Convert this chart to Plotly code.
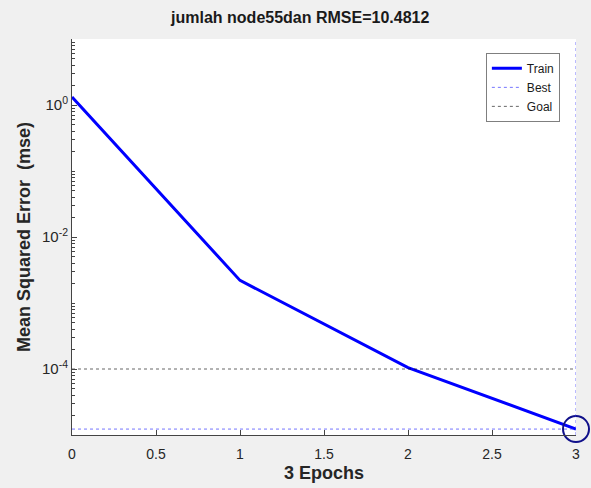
import plotly.graph_objects as go

# Data
epochs = [0, 1, 2, 3]
train_mse = [1.32, 2.2e-3, 1.05e-4, 1.23e-5]
best_epoch = 3
best_mse = 1.23e-5
goal_mse = 1e-4
y_lim = [1e-5, 1e1]
x_lim = [0, 3]
x_ticks = [0, 0.5, 1, 1.5, 2, 2.5, 3]
x_tick_text = ["0", "0.5", "1", "1.5", "2", "2.5", "3"]
y_ticks = [1e0, 1e-2, 1e-4]
y_tick_text = ["10<sup>0</sup>", "10<sup>-2</sup>", "10<sup>-4</sup>"]
title_text = "jumlah node55dan RMSE=10.4812"

minor_vals = [k * 10 ** d for d in range(-5, 1) for k in range(1, 10)] + [10]

fig = go.Figure()
fig.add_trace(go.Scatter(x=epochs, y=train_mse, mode="lines", name="Train",
                         line=dict(color="#0000ff", width=3)))
fig.add_trace(go.Scatter(x=x_lim, y=[best_mse, best_mse], mode="lines", name="Best",
                         line=dict(color="rgba(60,60,255,0.7)", width=1, dash="dot")))
fig.add_trace(go.Scatter(x=x_lim, y=[goal_mse, goal_mse], mode="lines", name="Goal",
                         line=dict(color="rgba(0,0,0,0.6)", width=1, dash="dot")))
fig.add_trace(go.Scatter(x=[best_epoch], y=[best_mse], mode="markers", showlegend=False,
                         cliponaxis=False,
                         marker=dict(symbol="circle-open", size=26,
                                     line=dict(color="#10108a", width=2), color="#10108a")))
fig.add_shape(type="line", xref="x", yref="paper", x0=best_epoch, x1=best_epoch, y0=0, y1=1,
              line=dict(color="rgba(60,60,255,0.7)", width=1, dash="dot"), layer="above")

fig.update_layout(
    width=591, height=488,
    margin=dict(l=72, r=15, t=39, b=53, autoexpand=False),
    paper_bgcolor="#f0f0f0", plot_bgcolor="#ffffff",
    font=dict(family="Liberation Sans, Arial, sans-serif", size=14, color="#262626"),
    title=dict(text="<b>" + title_text + "</b>", x=0.508, xanchor="center",
               y=0.965, yanchor="middle", yref="container",
               font=dict(size=16, color="#1a1a1a")),
    showlegend=True,
    legend=dict(x=0.968, y=0.965, xanchor="right", yanchor="top",
                bgcolor="#ffffff", bordercolor="#7f7f7f", borderwidth=1,
                font=dict(size=12, color="#1a1a1a"), tracegroupgap=0,
                itemwidth=30),
    xaxis=dict(range=x_lim, tickvals=x_ticks, ticktext=x_tick_text, automargin=False,
               ticks="inside", ticklen=5, tickcolor="#444", showgrid=False, zeroline=False,
               showline=True, linecolor="#444", linewidth=1, tickfont=dict(size=14, color="#262626"),
               ticklabelstandoff=6,
               title=dict(text="<b>3 Epochs</b>", font=dict(size=18, color="#262626"), standoff=5)),
    yaxis=dict(type="log", range=[-5, 1], tickvals=y_ticks, ticktext=y_tick_text, automargin=False,
               ticks="inside", ticklen=5, tickcolor="#444", showgrid=False, zeroline=False,
               showline=True, linecolor="#444", linewidth=1, tickfont=dict(size=15, color="#262626"),
               minor=dict(ticks="inside", ticklen=3, tickcolor="#444", tickvals=minor_vals, showgrid=False),
               title=dict(text="<b>Mean Squared Error&nbsp; (mse)</b>", font=dict(size=18, color="#262626"), standoff=6)),
)

fig.write_html("out.html", config={"displayModeBar": False},
               post_script="document.body.style.margin='0';document.body.style.padding='0';")
